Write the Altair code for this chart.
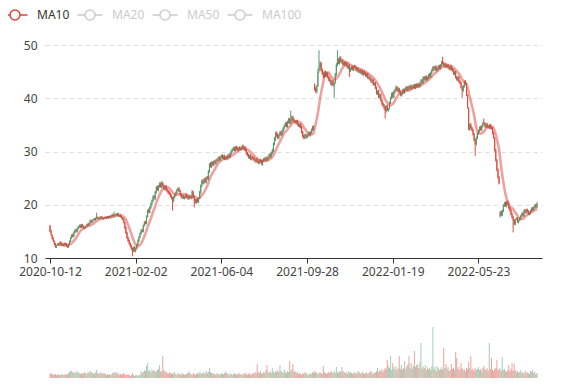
import altair as alt
import pandas as pd

# ---- data (daily candles, left to right) ----
opens = [
    16.1, 15.1, 14.3, 13.8, 13.1, 12.7, 12.0, 12.4, 12.7, 12.4,
    12.9, 12.3, 12.6, 12.2, 12.8, 12.7, 12.3, 12.0, 12.5, 13.1,
    13.7, 14.4, 14.0, 14.7, 15.3, 14.9, 15.4, 15.8, 16.2, 15.7,
    16.3, 16.0, 15.5, 15.8, 15.9, 16.4, 16.1, 16.5, 17.1, 16.7,
    17.0, 17.4, 17.1, 17.4, 17.7, 17.3, 17.4, 17.8, 17.7, 17.3,
    17.4, 17.7, 17.4, 17.8, 17.5, 17.9, 17.6, 17.8, 18.2, 17.8,
    17.9, 18.3, 18.0, 18.4, 17.8, 18.1, 17.8, 17.6, 17.3, 16.7,
    15.8, 14.8, 13.9, 13.4, 12.8, 12.4, 11.9, 11.2, 12.0, 11.4,
    11.7, 12.4, 13.2, 13.8, 14.5, 15.3, 14.9, 16.0, 16.9, 16.4,
    17.7, 19.1, 18.5, 19.4, 20.1, 20.7, 21.6, 21.1, 22.3, 23.3,
    22.7, 23.4, 24.0, 23.3, 24.1, 23.7, 22.9, 23.5, 22.9, 22.6,
    22.4, 22.1, 21.7, 21.3, 20.7, 21.4, 21.8, 22.2, 22.7, 23.1,
    22.7, 22.0, 21.3, 21.7, 21.2, 21.4, 21.9, 21.5, 21.1, 21.7,
    21.2, 21.3, 22.5, 21.6, 20.9, 20.4, 21.0, 20.5, 21.3, 22.3,
    23.5, 24.6, 24.0, 24.9, 24.2, 25.2, 24.8, 26.2, 27.8, 27.1,
    28.0, 27.4, 28.2, 27.7, 28.5, 28.2, 28.9, 28.4, 28.9, 29.3,
    28.7, 29.2, 28.5, 29.0, 28.6, 29.4, 28.9, 29.5, 30.0, 30.3,
    30.7, 30.1, 30.9, 30.6, 30.2, 30.8, 30.3, 30.5, 31.1, 30.4,
    30.9, 30.3, 29.7, 29.4, 28.8, 29.3, 28.5, 29.0, 28.8, 28.5,
    28.1, 28.6, 28.1, 27.8, 28.4, 28.2, 27.7, 28.2, 28.7, 28.3,
    28.9, 28.4, 28.8, 29.5, 29.0, 29.7, 30.1, 31.4, 32.3, 33.5,
    33.2, 32.5, 33.0, 33.7, 33.1, 33.8, 34.3, 34.8, 35.3, 34.7,
    35.4, 36.1, 35.3, 35.7, 36.5, 36.0, 35.7, 35.3, 35.8, 35.2,
    34.7, 35.1, 34.6, 33.7, 33.0, 32.5, 33.2, 32.6, 32.9, 33.5,
    33.0, 33.5, 34.0, 34.6, 42.6, 41.9, 41.2, 42.3, 45.1, 45.7,
    46.6, 45.3, 44.7, 44.0, 44.9, 44.2, 44.7, 44.0, 43.6, 43.4,
    42.5, 43.3, 42.4, 42.9, 44.4, 46.2, 47.2, 46.5, 47.6, 46.8,
    47.2, 46.3, 46.9, 46.1, 46.6, 45.7, 46.2, 45.1, 45.5, 45.9,
    45.3, 46.1, 45.9, 45.2, 45.7, 44.9, 45.3, 44.7, 45.2, 44.4,
    45.0, 44.7, 44.1, 44.6, 43.7, 44.0, 43.6, 43.0, 43.5, 42.5,
    42.9, 42.0, 40.8, 41.4, 40.1, 40.7, 39.7, 39.1, 38.7, 38.4,
    37.5, 38.6, 37.7, 38.1, 39.1, 40.0, 41.0, 40.2, 41.1, 41.5,
    42.1, 41.3, 41.9, 41.3, 40.5, 40.8, 41.6, 41.0, 41.6, 42.1,
    41.5, 42.2, 41.7, 42.4, 41.8, 42.1, 42.5, 41.9, 42.6, 42.1,
    42.7, 42.2, 42.7, 43.4, 42.9, 44.0, 43.4, 44.1, 43.5, 43.8,
    44.5, 44.0, 44.7, 45.2, 45.9, 45.3, 46.0, 45.2, 45.5, 46.1,
    45.6, 46.1, 46.9, 46.6, 46.0, 46.5, 45.8, 46.3, 45.9, 45.4,
    46.0, 45.5, 45.3, 44.5, 45.0, 44.0, 43.4, 44.0, 43.2, 42.9,
    42.1, 41.4, 42.2, 43.2, 42.7, 40.5, 38.1, 34.1, 35.1, 34.5,
    34.1, 33.3, 32.2, 31.3, 32.5, 33.3, 33.8, 34.6, 34.0, 34.7,
    35.4, 35.3, 34.6, 35.2, 34.7, 34.4, 35.0, 34.5, 34.4, 33.5,
    32.5, 30.3, 28.4, 26.6, 25.2, 17.8, 18.7, 18.0, 18.8, 19.8,
    20.4, 19.7, 20.6, 20.3, 19.5, 19.0, 18.3, 17.7, 17.1, 16.3,
    17.3, 17.5, 16.7, 17.1, 17.4, 17.8, 18.4, 17.9, 19.0, 18.5,
    19.1, 18.8, 18.2, 18.4, 18.8, 19.4, 19.0, 19.4, 20.0, 19.5,
]

closes = [
    15.0, 14.4, 13.6, 13.2, 12.6, 12.1, 12.3, 12.6, 12.5, 12.8,
    12.4, 12.5, 12.3, 12.7, 12.6, 12.2, 12.1, 12.6, 13.2, 13.8,
    14.3, 14.1, 14.8, 15.2, 15.0, 15.5, 15.9, 16.1, 15.8, 16.2,
    15.9, 15.6, 15.7, 16.0, 16.3, 16.2, 16.6, 17.0, 16.8, 17.1,
    17.3, 17.2, 17.5, 17.6, 17.4, 17.5, 17.7, 17.6, 17.4, 17.5,
    17.6, 17.5, 17.7, 17.6, 17.8, 17.7, 17.9, 18.1, 17.9, 18.0,
    18.2, 18.1, 18.3, 17.9, 18.0, 17.7, 17.5, 17.2, 16.6, 15.6,
    14.6, 13.7, 13.2, 12.7, 12.2, 11.8, 11.3, 11.9, 11.5, 11.8,
    12.5, 13.3, 13.9, 14.6, 15.2, 15.0, 16.1, 16.7, 16.5, 17.8,
    18.9, 18.6, 19.5, 20.2, 20.8, 21.5, 21.2, 22.4, 23.2, 22.8,
    23.5, 23.9, 23.4, 24.0, 23.6, 23.0, 23.4, 22.8, 22.5, 22.3,
    22.0, 21.6, 21.2, 20.8, 21.5, 21.9, 22.3, 22.8, 23.0, 22.6,
    21.9, 21.4, 21.6, 21.3, 21.5, 21.8, 21.4, 21.2, 21.6, 21.3,
    21.4, 22.4, 21.5, 20.8, 20.5, 20.9, 20.6, 21.2, 22.4, 23.6,
    24.5, 24.1, 24.8, 24.3, 25.1, 24.9, 26.3, 27.6, 27.2, 27.9,
    27.5, 28.1, 27.8, 28.4, 28.3, 28.8, 28.5, 29.0, 29.2, 28.8,
    29.1, 28.6, 28.9, 28.7, 29.3, 29.0, 29.6, 30.1, 30.4, 30.6,
    30.2, 30.8, 30.5, 30.3, 30.7, 30.4, 30.6, 31.0, 30.5, 30.8,
    30.2, 29.6, 29.3, 28.9, 29.2, 28.6, 28.9, 28.7, 28.4, 28.2,
    28.5, 28.0, 27.9, 28.3, 28.1, 27.8, 28.3, 28.6, 28.4, 28.8,
    28.5, 28.9, 29.4, 29.1, 29.8, 30.2, 31.5, 32.4, 33.4, 33.0,
    32.6, 33.1, 33.6, 33.2, 33.9, 34.4, 34.9, 35.2, 34.8, 35.5,
    36.0, 35.4, 35.8, 36.4, 35.9, 35.6, 35.4, 35.7, 35.1, 34.8,
    35.0, 34.5, 33.6, 32.8, 32.6, 33.1, 32.7, 33.0, 33.4, 33.1,
    33.6, 34.1, 34.5, 34.3, 41.8, 41.3, 42.2, 44.9, 45.8, 46.5,
    45.2, 44.6, 44.1, 44.8, 44.3, 44.6, 43.9, 43.5, 43.3, 42.6,
    43.2, 42.5, 42.8, 44.5, 46.3, 47.1, 46.6, 47.5, 46.9, 47.1,
    46.4, 46.8, 46.2, 46.5, 45.8, 46.1, 45.2, 45.6, 45.9, 45.4,
    46.0, 45.8, 45.3, 45.6, 45.0, 45.2, 44.8, 45.1, 44.5, 44.9,
    44.6, 44.2, 44.5, 43.8, 43.9, 43.5, 43.1, 43.4, 42.6, 42.8,
    41.9, 40.9, 41.3, 40.2, 40.6, 39.6, 39.0, 38.6, 38.3, 37.6,
    38.5, 37.8, 38.0, 39.2, 40.1, 40.9, 40.3, 41.2, 41.6, 42.0,
    41.4, 41.8, 41.2, 40.6, 40.9, 41.5, 41.1, 41.7, 42.0, 41.6,
    42.1, 41.8, 42.3, 41.9, 42.2, 42.4, 42.0, 42.5, 42.2, 42.6,
    42.3, 42.8, 43.3, 43.0, 43.9, 43.5, 44.0, 43.6, 43.9, 44.4,
    44.1, 44.8, 45.3, 45.8, 45.4, 45.9, 45.3, 45.6, 46.0, 45.7,
    46.2, 46.8, 46.5, 46.1, 46.4, 45.9, 46.2, 45.8, 45.5, 45.9,
    45.4, 45.2, 44.6, 44.9, 43.9, 43.5, 43.9, 43.1, 42.8, 42.0,
    41.5, 42.3, 43.1, 42.8, 40.6, 38.3, 34.2, 35.0, 34.4, 34.0,
    33.2, 32.1, 31.4, 32.6, 33.4, 33.9, 34.5, 34.1, 34.8, 35.3,
    35.2, 34.7, 35.1, 34.6, 34.5, 34.9, 34.4, 34.3, 33.4, 32.6,
    30.2, 28.3, 26.5, 25.1, 24.0, 18.6, 18.1, 18.9, 19.9, 20.3,
    19.8, 20.5, 20.2, 19.4, 18.9, 18.2, 17.6, 17.0, 16.4, 17.2,
    17.4, 16.8, 17.0, 17.5, 17.9, 18.3, 18.0, 18.9, 18.6, 19.0,
    18.7, 18.3, 18.5, 18.9, 19.3, 19.1, 19.5, 19.9, 19.6, 20.2,
]

highs = [
    16.2, 15.3, 14.4, 13.9, 13.3, 12.8, 12.5, 12.8, 12.8, 12.9,
    13.0, 12.7, 12.7, 12.9, 12.9, 12.8, 12.4, 12.7, 13.3, 14.0,
    14.5, 14.6, 15.0, 15.4, 15.5, 15.7, 16.0, 16.3, 16.3, 16.4,
    16.4, 16.1, 15.9, 16.1, 16.4, 16.6, 16.7, 17.2, 17.2, 17.2,
    17.4, 17.5, 17.6, 18.5, 17.8, 17.6, 17.8, 17.9, 17.8, 17.6,
    17.7, 17.8, 17.8, 17.9, 17.9, 18.0, 18.0, 18.2, 18.3, 18.7,
    18.3, 18.4, 18.5, 18.5, 18.1, 18.2, 17.9, 17.7, 17.4, 16.8,
    15.9, 14.9, 14.0, 13.5, 12.9, 12.5, 12.0, 12.1, 12.2, 12.0,
    12.7, 13.5, 14.1, 14.8, 15.4, 15.5, 16.3, 16.9, 17.0, 18.0,
    19.1, 19.3, 19.7, 20.4, 21.0, 21.8, 21.8, 22.6, 23.5, 23.6,
    23.7, 24.2, 24.2, 24.5, 24.3, 23.8, 23.6, 23.7, 23.1, 22.8,
    22.6, 22.3, 21.9, 21.5, 21.7, 22.1, 22.5, 23.0, 23.3, 23.3,
    22.8, 22.2, 21.8, 21.9, 21.7, 22.0, 22.0, 21.7, 21.8, 21.9,
    21.6, 22.8, 22.6, 21.8, 21.1, 21.1, 21.2, 21.4, 22.6, 23.8,
    24.7, 24.8, 25.0, 25.1, 25.3, 25.4, 26.5, 27.8, 28.0, 28.1,
    28.2, 28.3, 28.4, 28.6, 28.7, 29.0, 29.1, 29.2, 29.4, 29.5,
    29.3, 29.4, 29.1, 29.2, 29.5, 29.6, 29.8, 30.3, 30.6, 30.9,
    30.9, 31.0, 31.1, 30.8, 30.9, 31.0, 30.8, 31.2, 31.3, 31.0,
    31.0, 30.5, 29.9, 29.6, 29.4, 29.5, 29.1, 29.2, 29.0, 28.7,
    28.7, 28.8, 28.3, 28.5, 28.6, 28.4, 28.5, 28.8, 28.9, 29.0,
    29.1, 29.1, 29.6, 29.7, 30.0, 30.5, 31.7, 32.7, 33.7, 33.8,
    33.4, 33.3, 33.8, 33.9, 34.1, 34.6, 35.1, 35.5, 35.6, 35.8,
    36.3, 36.3, 37.7, 36.7, 36.7, 36.2, 35.9, 35.9, 36.0, 35.4,
    35.2, 35.3, 34.8, 33.9, 33.2, 33.3, 33.4, 33.2, 33.6, 33.7,
    33.8, 34.3, 34.8, 34.9, 42.8, 42.1, 42.5, 45.5, 49.0, 47.0,
    46.8, 45.6, 45.0, 45.1, 45.2, 44.9, 44.9, 44.2, 43.9, 43.6,
    43.4, 43.5, 43.0, 44.8, 46.6, 49.0, 47.5, 47.8, 47.9, 47.4,
    47.4, 47.0, 47.1, 46.8, 46.8, 46.3, 46.4, 45.8, 46.1, 46.1,
    46.2, 46.3, 46.1, 45.8, 45.9, 45.4, 45.5, 45.3, 45.4, 45.1,
    45.2, 44.9, 44.7, 44.8, 44.1, 44.2, 43.8, 43.6, 43.7, 43.0,
    43.1, 42.2, 41.5, 41.6, 40.8, 40.9, 39.9, 39.3, 38.9, 38.6,
    38.7, 38.8, 38.2, 39.4, 40.3, 41.1, 41.2, 41.4, 41.8, 42.4,
    42.3, 42.0, 42.0, 41.5, 41.1, 41.7, 41.8, 41.9, 42.2, 42.3,
    42.3, 42.4, 42.5, 42.6, 42.4, 42.6, 42.7, 42.7, 42.8, 42.8,
    42.9, 43.0, 43.6, 43.6, 44.1, 44.2, 44.2, 44.3, 44.1, 44.6,
    44.7, 45.0, 45.5, 46.0, 46.1, 46.1, 46.2, 45.8, 46.2, 46.3,
    46.4, 47.0, 47.8, 46.8, 46.6, 46.7, 46.4, 46.5, 46.1, 46.1,
    46.2, 45.7, 45.5, 45.1, 45.2, 44.2, 44.1, 44.2, 43.4, 43.1,
    42.3, 42.5, 43.3, 43.4, 42.9, 40.7, 38.3, 35.3, 35.3, 34.7,
    34.3, 33.5, 32.4, 32.8, 33.6, 34.1, 34.7, 34.8, 35.0, 35.5,
    36.2, 35.5, 35.3, 35.4, 34.9, 35.1, 35.2, 34.7, 34.6, 33.7,
    32.7, 30.5, 28.6, 26.8, 25.4, 18.8, 18.9, 19.1, 20.1, 20.5,
    20.6, 20.7, 20.8, 20.4, 19.7, 19.2, 18.5, 17.9, 17.3, 17.4,
    17.6, 17.7, 17.2, 17.7, 18.1, 18.5, 18.6, 19.1, 19.2, 19.2,
    19.3, 19.0, 18.7, 19.1, 19.5, 19.6, 19.7, 20.1, 20.2, 20.5,
]

lows = [
    14.9, 14.2, 13.5, 13.0, 12.4, 11.9, 11.9, 12.3, 12.3, 12.3,
    12.3, 12.2, 12.2, 12.1, 12.4, 12.1, 11.9, 11.9, 12.4, 13.0,
    13.6, 13.9, 13.9, 14.6, 14.8, 14.8, 15.3, 15.6, 15.6, 15.6,
    15.8, 15.4, 15.4, 15.7, 15.8, 16.0, 16.0, 16.4, 16.6, 16.6,
    16.9, 17.1, 17.0, 17.3, 17.3, 17.2, 17.3, 17.5, 17.3, 17.2,
    17.3, 17.4, 17.3, 17.5, 17.4, 17.6, 17.5, 17.7, 17.8, 17.7,
    17.8, 18.0, 17.9, 17.8, 17.7, 17.6, 17.4, 17.1, 16.5, 15.5,
    14.5, 13.6, 13.0, 12.5, 12.0, 11.5, 10.3, 11.1, 11.2, 11.0,
    11.6, 12.3, 13.0, 13.7, 14.4, 14.8, 14.8, 15.9, 16.3, 16.3,
    17.6, 18.4, 18.4, 19.2, 19.9, 20.5, 21.0, 20.9, 22.1, 22.6,
    22.5, 23.2, 23.2, 23.1, 23.4, 22.8, 22.7, 22.6, 22.3, 22.0,
    21.8, 21.4, 21.0, 18.9, 20.5, 21.2, 21.6, 22.0, 22.5, 22.4,
    21.7, 21.2, 21.1, 21.1, 21.0, 21.2, 21.2, 21.0, 20.9, 21.1,
    21.0, 21.1, 21.3, 19.5, 20.2, 20.2, 20.4, 20.3, 21.1, 22.1,
    23.3, 23.9, 23.8, 24.1, 24.0, 24.7, 24.6, 26.0, 27.0, 26.9,
    27.3, 27.2, 27.6, 27.5, 28.1, 28.0, 28.3, 28.2, 28.7, 28.6,
    28.5, 28.4, 28.3, 28.5, 28.4, 28.8, 28.7, 29.3, 29.8, 30.1,
    30.0, 30.0, 30.3, 30.1, 30.0, 30.2, 30.1, 30.3, 30.3, 30.2,
    30.0, 29.4, 29.1, 28.7, 28.6, 28.4, 28.3, 28.5, 28.2, 27.9,
    27.9, 27.8, 27.6, 27.6, 27.9, 27.5, 27.3, 28.0, 28.2, 28.1,
    28.3, 28.2, 28.6, 28.9, 28.8, 29.5, 29.9, 31.2, 32.0, 32.7,
    32.3, 32.3, 32.8, 33.0, 32.9, 33.6, 34.1, 34.6, 34.5, 34.5,
    35.2, 35.2, 35.1, 35.5, 35.7, 35.4, 35.2, 35.1, 34.9, 34.6,
    34.5, 34.3, 33.4, 32.6, 32.3, 32.3, 32.5, 32.4, 32.7, 32.9,
    32.8, 33.3, 33.8, 34.0, 41.4, 41.0, 40.9, 42.1, 44.8, 45.4,
    45.0, 44.4, 43.8, 43.8, 44.0, 44.0, 43.7, 43.2, 43.0, 42.4,
    42.3, 42.2, 40.1, 42.7, 44.2, 46.0, 46.4, 46.3, 46.7, 46.5,
    46.2, 46.1, 46.0, 45.9, 45.6, 45.5, 44.0, 44.9, 45.3, 45.2,
    45.1, 45.6, 45.1, 45.0, 44.8, 44.7, 44.6, 44.5, 44.3, 44.2,
    44.4, 44.0, 43.9, 43.6, 43.5, 43.3, 42.9, 42.8, 42.4, 42.3,
    41.7, 40.7, 40.6, 40.0, 39.9, 39.4, 38.7, 38.4, 37.9, 36.2,
    37.3, 37.6, 37.5, 37.9, 38.9, 39.8, 40.1, 40.0, 40.9, 41.3,
    41.2, 41.1, 41.0, 40.4, 40.3, 40.6, 40.9, 40.8, 41.4, 41.4,
    41.3, 41.6, 41.5, 41.7, 41.6, 41.9, 41.8, 41.7, 42.0, 41.9,
    42.1, 42.0, 42.5, 42.8, 42.7, 43.3, 43.2, 43.4, 43.3, 43.6,
    43.9, 43.8, 44.5, 45.0, 45.2, 45.1, 45.1, 45.0, 45.3, 45.5,
    45.4, 45.9, 46.3, 45.9, 45.8, 45.7, 45.6, 45.6, 45.3, 45.2,
    45.2, 45.0, 44.4, 44.3, 43.7, 43.3, 43.2, 42.9, 42.6, 41.8,
    40.1, 41.2, 42.0, 42.6, 40.4, 38.1, 34.0, 33.9, 34.2, 33.8,
    33.0, 31.9, 29.2, 31.1, 32.3, 33.1, 33.6, 33.9, 33.8, 34.5,
    35.0, 34.5, 34.4, 34.4, 34.3, 34.2, 34.2, 34.1, 33.2, 32.4,
    30.0, 28.1, 26.3, 24.9, 23.8, 17.6, 17.9, 17.8, 18.6, 19.6,
    19.6, 19.5, 20.0, 19.2, 18.7, 18.0, 17.4, 14.8, 16.2, 16.1,
    17.1, 16.6, 16.5, 16.9, 17.2, 17.6, 17.8, 17.7, 18.4, 18.3,
    18.5, 18.1, 18.0, 18.2, 18.6, 18.9, 18.8, 19.2, 19.4, 19.3,
]

volumes = [
    4, 5, 4, 3, 3, 4, 3, 3, 4, 3,
    3, 4, 3, 3, 4, 3, 4, 5, 6, 7,
    7, 6, 5, 6, 5, 7, 6, 5, 4, 5,
    4, 5, 6, 5, 4, 6, 5, 7, 6, 5,
    5, 4, 6, 8, 5, 4, 5, 6, 4, 5,
    5, 4, 3, 4, 3, 4, 3, 4, 5, 6,
    5, 6, 4, 5, 3, 4, 3, 4, 5, 4,
    3, 3, 4, 3, 2, 3, 5, 3, 2, 3,
    3, 2, 3, 3, 7, 5, 6, 8, 7, 12,
    15, 7, 8, 6, 9, 7, 8, 6, 7, 8,
    9, 13, 7, 6, 22, 8, 6, 7, 5, 4,
    6, 5, 4, 5, 4, 6, 4, 3, 5, 4,
    4, 3, 5, 4, 3, 4, 4, 5, 7, 5,
    4, 3, 5, 4, 3, 4, 5, 4, 6, 5,
    4, 5, 6, 4, 7, 5, 6, 10, 6, 5,
    4, 5, 4, 3, 5, 4, 3, 4, 5, 4,
    4, 5, 7, 5, 4, 3, 5, 4, 3, 4,
    5, 4, 3, 4, 5, 4, 4, 3, 4, 5,
    4, 5, 3, 4, 5, 3, 4, 5, 4, 6,
    5, 14, 6, 5, 7, 4, 5, 6, 5, 8,
    13, 6, 5, 7, 5, 10, 6, 5, 7, 6,
    8, 6, 13, 7, 6, 5, 8, 6, 5, 7,
    6, 17, 7, 9, 14, 6, 7, 5, 6, 4,
    5, 4, 3, 5, 4, 6, 5, 4, 3, 4,
    5, 4, 6, 5, 7, 6, 5, 4, 5, 6,
    5, 4, 12, 6, 5, 4, 5, 6, 5, 7,
    6, 5, 7, 5, 11, 6, 5, 7, 6, 11,
    7, 6, 5, 6, 4, 7, 5, 6, 5, 4,
    5, 6, 4, 5, 7, 6, 5, 4, 6, 5,
    4, 5, 6, 4, 5, 6, 7, 5, 4, 6,
    5, 7, 10, 6, 8, 7, 9, 6, 8, 10,
    9, 18, 12, 10, 22, 8, 15, 11, 9, 12,
    8, 10, 22, 9, 13, 8, 10, 17, 9, 12,
    14, 22, 10, 15, 9, 12, 27, 11, 13, 14,
    10, 16, 35, 9, 12, 10, 13, 8, 11, 9,
    10, 8, 12, 51, 9, 11, 7, 12, 10, 8,
    9, 11, 8, 30, 10, 14, 9, 11, 7, 8,
    14, 9, 10, 8, 26, 20, 9, 11, 8, 15,
    10, 8, 9, 7, 10, 9, 16, 10, 22, 8,
    9, 7, 10, 8, 9, 11, 8, 9, 7, 10,
    12, 9, 8, 10, 7, 35, 9, 20, 8, 7,
    9, 10, 18, 8, 9, 10, 7, 21, 8, 9,
    7, 6, 8, 13, 7, 9, 15, 7, 14, 8,
    6, 7, 5, 6, 8, 5, 6, 4, 7, 5,
    6, 5, 4, 7, 6, 8, 5, 6, 4, 5,
]

tick_index = [0, 79, 158, 237, 316, 395]
tick_labels = ["2020-10-12", "2021-02-02", "2021-06-04",
               "2021-09-28", "2022-01-19", "2022-05-23"]
price_ticks = [10, 20, 30, 40, 50]
ma_series = ["MA10", "MA20", "MA50", "MA100"]

lens = [len(opens), len(closes), len(highs), len(lows), len(volumes)]
assert len(set(lens)) == 1, f"length mismatch {lens}"

N = len(closes)
df = pd.DataFrame({
    "i": list(range(N)),
    "open": opens,
    "close": closes,
    "high": highs,
    "low": lows,
    "volume": volumes,
})

RED = "#dc4a3b"
GREEN = "#55996d"
FONT = "Noto Sans"

label_expr = " : ".join(
    f"datum.value == {i} ? '{s}'" for i, s in zip(tick_index, tick_labels)
) + " : ''"

x_scale = alt.Scale(domain=[0, N - 1], nice=False, zero=False)
y_scale = alt.Scale(domain=[10, 50], nice=False, zero=False)

up = "datum.close >= datum.open"
candle_color = alt.condition(up, alt.value(GREEN), alt.value(RED))

base = alt.Chart(df)

x_axis = alt.Axis(values=tick_index, labelExpr=label_expr, grid=False,
                  domainColor="#333", tickColor="#333", tickSize=5,
                  labelColor="#444", labelFontSize=12, labelPadding=3,
                  labelFont=FONT, labelOverlap=False, labelFlush=False)
y_axis = alt.Axis(values=price_ticks, grid=True, gridDash=[4, 4],
                  gridColor="#dcdcdc", domain=False, ticks=False,
                  labelColor="#444", labelFontSize=12, labelPadding=8,
                  labelFont=FONT)

wicks = base.mark_rule(strokeWidth=1).encode(
    x=alt.X("i:Q", scale=x_scale, axis=x_axis, title=None),
    y=alt.Y("low:Q", scale=y_scale, axis=y_axis, title=None),
    y2="high:Q",
    color=candle_color,
)

bodies = base.mark_bar(size=1).encode(
    x=alt.X("i:Q", scale=x_scale),
    y=alt.Y("open:Q", scale=y_scale),
    y2="close:Q",
    color=candle_color,
)

legend_symbol = ("M-2.5,0H-1 M1,0H2.5 "
                 "M-1,0A1,1 0 1,0 1,0A1,1 0 1,0 -1,0")

ma = base.transform_window(
    ma10="mean(close)", frame=[-9, 0], sort=[alt.SortField("i")]
).transform_filter("datum.i >= 9").transform_calculate(
    series="'MA10'"
).mark_line(strokeWidth=2.6, opacity=0.5, interpolate="monotone").encode(
    x=alt.X("i:Q", scale=x_scale),
    y=alt.Y("ma10:Q", scale=y_scale),
    color=alt.Color(
        "series:N",
        scale=alt.Scale(domain=ma_series,
                        range=["#d9463f", "#cccccc", "#cccccc", "#cccccc"]),
        legend=alt.Legend(
            title=None, orient="none", legendX=-37, legendY=-37,
            padding=1,
            direction="horizontal", symbolType=legend_symbol,
            symbolSize=100, symbolStrokeWidth=1.5, symbolOpacity=1,
            symbolFillColor="#ffffff", labelFont=FONT, labelFontSize=12,
            labelOffset=16, columnPadding=4,
            labelColor=alt.ExprRef(
                expr="datum.value == 'MA10' ? '#333333' : '#cccccc'"),
        ),
    ),
)

main = alt.layer(wicks, bodies, ma).properties(width=497, height=213)

vol = base.mark_bar(size=1, opacity=0.5).encode(
    x=alt.X("i:Q", scale=x_scale,
            axis=alt.Axis(labels=False, ticks=False, grid=False,
                          domainColor="#333", title=None)),
    y=alt.Y("volume:Q", scale=alt.Scale(domain=[0, 80], nice=False),
            axis=None),
    color=candle_color,
).properties(width=497, height=80)

chart = alt.vconcat(main, vol, spacing=21).resolve_scale(
    color="independent"
).properties(padding=0, background="white").configure_view(stroke=None)

chart.save("out.html", embed_options={"renderer": "svg", "actions": False})
